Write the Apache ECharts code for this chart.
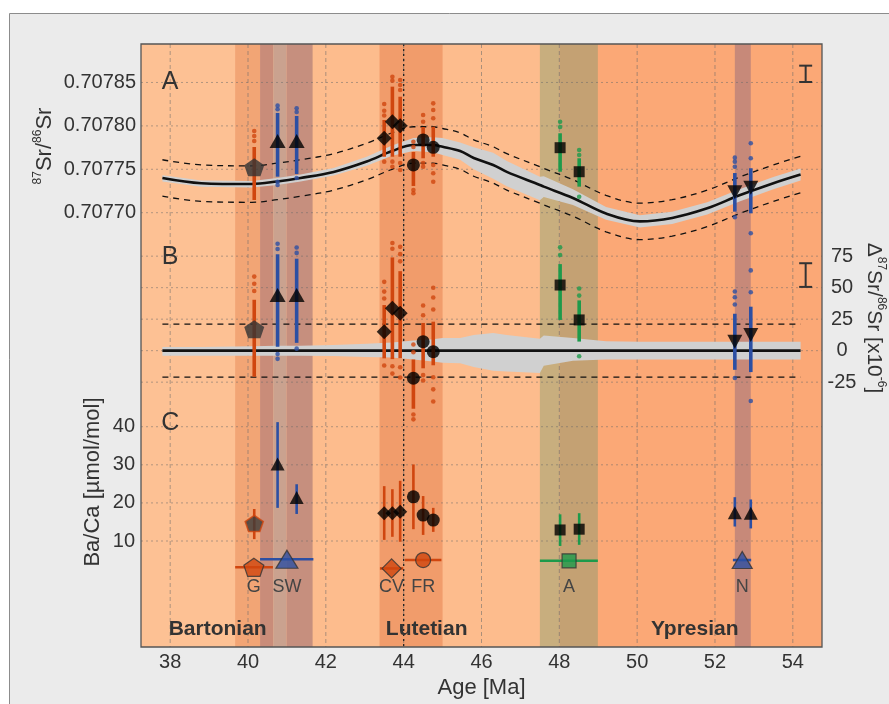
<!DOCTYPE html>
<html><head><meta charset="utf-8">
<script src="https://cdn.jsdelivr.net/npm/echarts/dist/echarts.min.js"></script>
<style>html,body{margin:0;padding:0;background:#ffffff}#c{width:889px;height:704px}</style>
</head><body><div id="c"></div>
<script>
// ---------------- DATA ----------------
const ageTicks = [38, 40, 42, 44, 46, 48, 50, 52, 54];
const srTicks = [0.70770, 0.70775, 0.70780, 0.70785];
const dSrTicks = [-25, 0, 25, 50, 75];
const baTicks = [10, 20, 30, 40];

const stageNames = ['Bartonian', 'Lutetian', 'Ypresian'];
const stageStart = [37.25, 41.2, 48.0];
const stageEnd = [41.2, 48.0, 54.75];
const stageLabelAge = [39.22, 44.59, 51.48];

const bandStart = [39.67, 40.31, 40.65, 40.99, 43.38, 47.50, 48.00, 52.51];
const bandEnd   = [40.31, 40.65, 40.99, 41.66, 45.00, 48.00, 48.99, 52.92];

const markerLineAge = [44.0];

// LOWESS reference curve (87Sr/86Sr) and its uncertainty envelope (x1e-6)
const curveAge = [37.8, 38.8, 40.1, 40.75, 41.35, 42.2, 43.05, 43.7, 44.25, 44.75, 45.0, 45.45, 45.8, 46.3, 46.65, 47.5, 47.6, 48.35, 49.2, 50.07, 50.9, 51.8, 52.63, 53.5, 54.2];
const curveSr  = [0.707740, 0.707734, 0.707733, 0.707736, 0.707740, 0.707747, 0.707759, 0.707771, 0.707778, 0.707778, 0.707776, 0.707771, 0.707763, 0.707755, 0.707747, 0.707732, 0.707730, 0.707717, 0.707699, 0.707690, 0.707694, 0.707705, 0.707720, 0.707734, 0.707744];
const curveUp  = [3, 3, 3.5, 4, 4, 4.5, 5.5, 6.5, 8, 9, 10, 10, 12.5, 14, 12.5, 9.5, 12, 10, 7.5, 7, 7, 7, 7, 7, 7];
const curveLo  = [-4, -4, -4, -4, -4, -4.2, -5, -5.5, -7, -8.5, -9.5, -10, -13, -16, -16.5, -17.7, -12, -8, -7, -7, -7, -7, -7, -7, -7];
const SR_ENV = 21;      // dashed envelope, x1e-6
const EXT_2SD = 9.4;    // external reproducibility, x1e-6
const extAge = [54.33];
const extSrCenter = [0.70786];
const extDSrCenter = [60];

// Sr isotope samples
const srSite = ['G', 'SW', 'SW', 'CV', 'CV', 'CV', 'FR', 'FR', 'FR', 'A', 'A', 'N', 'N'];
const srAge  = [40.16, 40.76, 41.25, 43.50, 43.71, 43.91, 44.25, 44.50, 44.76, 48.02, 48.51, 52.51, 52.92];
const srMean = [0.7077523, 0.7077826, 0.7077826, 0.7077857, 0.7078048, 0.7078002, 0.7077550, 0.7077838, 0.7077753, 0.7077749, 0.7077472, 0.7077235, 0.7077288];
const dSrMean = [17.0, 44.2, 44.2, 15.1, 33.6, 29.7, -21.9, 7.1, -0.8, 52.1, 24.4, 7.1, 12.5];
const srCoreHi = [0.7077757, 0.7078149, 0.7078114, 0.7078068, 0.7078452, 0.7078336, 0.7077699, 0.7077987, 0.7077991, 0.7077915, 0.7077627, 0.7077457, 0.7077512];
const srCoreLo = [0.7077146, 0.7077415, 0.7077446, 0.7077645, 0.7077645, 0.7077645, 0.7077308, 0.7077627, 0.7077645, 0.7077472, 0.7077300, 0.7077012, 0.7076993];
const srDots = [
  [0.7077941, 0.7077884, 0.7077826],
  [0.7078233, 0.7078191, 0.7077357, 0.7077319],
  [0.7078203, 0.7078160, 0.7077400],
  [0.7078252, 0.7078175, 0.7078120, 0.7077588],
  [0.7078567, 0.7078521, 0.7077588, 0.7077530],
  [0.7078529, 0.7078471, 0.7078414, 0.7077573, 0.7077492],
  [0.7077818, 0.7077757, 0.7077262, 0.7077224],
  [0.7078126, 0.7078048, 0.7077573, 0.7077530],
  [0.7078260, 0.7078183, 0.7078088, 0.7077550, 0.7077454, 0.7077357],
  [0.7078048, 0.7077987],
  [0.7077722, 0.7077665, 0.7077184],
  [0.7077634, 0.7077588, 0.7077530, 0.7076947],
  [0.7077800, 0.7077627, 0.7076763]
];

// Ba/Ca of the same samples
const baMean = [14.6, 30.2, 21.4, 17.3, 17.3, 17.7, 21.6, 16.8, 15.5, 12.9, 13.1, 17.4, 17.3];
const baHi   = [18.4, 41.2, 24.9, 24.4, 23.6, 25.8, 30.1, 21.8, 18.7, 17.0, 17.3, 21.5, 20.9];
const baLo   = [10.5, 18.7, 17.1, 10.3, 11.1, 9.8, 13.1, 11.6, 12.4, 8.7, 9.0, 13.8, 13.3];

// Site reference points (lower row of panel C)
const refSite   = ['G', 'SW', 'CV', 'FR', 'A', 'N'];
const refAge    = [40.15, 41.00, 43.69, 44.50, 48.25, 52.70];
const refBa     = [3.1, 5.2, 2.8, 5.0, 4.8, 5.0];
const refAgeMin = [39.67, 40.31, 43.39, 44.03, 47.50, 52.46];
const refAgeMax = [40.64, 41.68, 43.99, 44.97, 48.99, 52.93];

// ---------------- LAYOUT / STYLE ----------------
const X_MIN = 37.25, X_MAX = 54.75;
const A_MIN = 0.70719965, A_MAX = 0.70789435;
const B_MIN = -235.2, B_MAX = 243.4;
const C_MIN = -17.82, C_MAX = 140.45;
const REF_LABEL_Y = -2.0, STAGE_LABEL_Y = -13.2;
const FONT = "'Liberation Sans', Arial, Helvetica, sans-serif";
const TXT = '#333333';
const ORANGE = '#d0460f', BLUE = '#2c4fa3', GREEN = '#1d9a4b';
const STAGE_COLORS = ['#fdc194', '#fdbc8d', '#fba876'];
const BAND_COLORS = ['#f2a575', '#c98c79', '#caa28f', '#c68f7e', '#f19c6b', '#c8ae7e', '#c4a173', '#c78979'];
const PENTAGON = 'path://M0,-10L9.511,-3.09L5.878,8.09L-5.878,8.09L-9.511,-3.09Z';
const siteColor = {G: ORANGE, SW: BLUE, CV: ORANGE, FR: ORANGE, A: GREEN, N: BLUE};
const siteSymbol = {G: PENTAGON, SW: 'triangle', CV: 'diamond', FR: 'circle', A: 'rect', N: 'triangle'};
const sizeSr = {G: [20, 19], SW: [16, 14], CV: [15, 15], FR: [13, 13], A: [11, 11], N: [15, 14]};
const sizeBa = {G: [18, 17], SW: [14, 13], CV: [14, 14], FR: [13, 13], A: [11, 11], N: [14, 13]};
const sizeRef = {G: [20, 19], SW: [22, 18], CV: [19, 19], FR: [15, 15], A: [14, 14], N: [20, 17]};

const chart = echarts.init(document.getElementById('c'), null, {renderer: 'canvas', width: 889, height: 704});

function rectItem(api, x0, x1, y0, y1, style) {
  const p0 = api.coord([x0, y1]), p1 = api.coord([x1, y0]);
  return {type: 'rect', shape: {x: p0[0], y: p0[1], width: p1[0] - p0[0], height: p1[1] - p0[1]}, style: style};
}
function lineItem(a, b, style) {
  return {type: 'line', shape: {x1: a[0], y1: a[1], x2: b[0], y2: b[1]}, style: style};
}

const series = [];
// stage backgrounds
series.push({type: 'custom', xAxisIndex: 0, yAxisIndex: 0, z: 1, silent: true,
  data: stageNames.map((n, i) => [stageStart[i], stageEnd[i]]),
  renderItem: (p, api) => rectItem(api, api.value(0), api.value(1), A_MIN, A_MAX, {fill: STAGE_COLORS[p.dataIndex]})});
// sample age bands
series.push({type: 'custom', xAxisIndex: 0, yAxisIndex: 0, z: 2, silent: true,
  data: bandStart.map((s, i) => [s, bandEnd[i]]),
  renderItem: (p, api) => rectItem(api, api.value(0), api.value(1), A_MIN, A_MAX, {fill: BAND_COLORS[p.dataIndex]})});
// vertical grid lines
series.push({type: 'custom', xAxisIndex: 0, yAxisIndex: 0, z: 3, silent: true,
  data: ageTicks.map(v => [v, A_MIN]),
  renderItem: (p, api) => lineItem(api.coord([api.value(0), A_MAX]), api.coord([api.value(0), A_MIN]),
    {stroke: 'rgba(105,105,105,0.55)', lineWidth: 1, lineDash: [4, 3]})});
// horizontal dotted grid lines per panel
[srTicks, dSrTicks, baTicks].forEach((ticks, g) => {
  series.push({type: 'custom', xAxisIndex: g, yAxisIndex: g, z: 3, silent: true,
    data: ticks.map(v => [X_MIN, v]),
    renderItem: (p, api) => lineItem(api.coord([X_MIN, api.value(1)]), api.coord([X_MAX, api.value(1)]),
      {stroke: 'rgba(105,105,105,0.5)', lineWidth: 1, lineDash: [2, 3]})});
});
// black dotted marker line
series.push({type: 'custom', xAxisIndex: 0, yAxisIndex: 0, z: 3, silent: true,
  data: markerLineAge.map(v => [v, A_MIN]),
  renderItem: (p, api) => lineItem(api.coord([api.value(0), A_MAX]), api.coord([api.value(0), A_MIN]),
    {stroke: '#222', lineWidth: 1.3, lineDash: [2, 3]})});
// gray uncertainty bands
series.push({type: 'custom', xAxisIndex: 0, yAxisIndex: 0, z: 4, silent: true,
  data: [[curveAge[0], curveSr[0]]],
  renderItem: (p, api) => {
    const up = curveAge.map((a, i) => api.coord([a, curveSr[i] + curveUp[i] * 1e-6]));
    const lo = curveAge.map((a, i) => api.coord([a, curveSr[i] + curveLo[i] * 1e-6])).reverse();
    return {type: 'polygon', shape: {points: up.concat(lo)}, style: {fill: '#d0d0d0'}};
  }});
series.push({type: 'custom', xAxisIndex: 1, yAxisIndex: 1, z: 4, silent: true,
  data: [[curveAge[0], 0]],
  renderItem: (p, api) => {
    const up = curveAge.map((a, i) => api.coord([a, curveUp[i]]));
    const lo = curveAge.map((a, i) => api.coord([a, curveLo[i]])).reverse();
    return {type: 'polygon', shape: {points: up.concat(lo)}, style: {fill: '#d0d0d0'}};
  }});
// curve + envelope (panel A)
series.push({type: 'line', xAxisIndex: 0, yAxisIndex: 0, z: 5, silent: true, smooth: 0.35, showSymbol: false,
  data: curveAge.map((a, i) => [a, curveSr[i]]), lineStyle: {color: '#111', width: 2.6}});
[1, -1].forEach(s => series.push({type: 'line', xAxisIndex: 0, yAxisIndex: 0, z: 5, silent: true, smooth: 0.35, showSymbol: false,
  data: curveAge.map((a, i) => [a, curveSr[i] + s * SR_ENV * 1e-6]), lineStyle: {color: '#111', width: 1.3, type: [6, 5]}}));
// panel B reference
series.push({type: 'line', xAxisIndex: 1, yAxisIndex: 1, z: 5, silent: true, showSymbol: false,
  data: curveAge.map(a => [a, 0]), lineStyle: {color: '#111', width: 2.6}});
[1, -1].forEach(s => series.push({type: 'line', xAxisIndex: 1, yAxisIndex: 1, z: 5, silent: true, showSymbol: false,
  data: [[curveAge[0], s * SR_ENV], [curveAge[curveAge.length - 1], s * SR_ENV]], lineStyle: {color: '#111', width: 1.3, type: [6, 5]}}));

// Sr panels: cores, dots, means
function toB(i, v) { return (v - srMean[i]) * 1e6 + dSrMean[i]; }
function vSeg(g, data, width, colorFn, z) {
  return {type: 'custom', xAxisIndex: g, yAxisIndex: g, z: z, silent: true, data: data,
    renderItem: (p, api) => lineItem(api.coord([api.value(0), api.value(1)]), api.coord([api.value(0), api.value(2)]),
      {stroke: colorFn(p.dataIndex), lineWidth: width})};
}
series.push(vSeg(0, srAge.map((a, i) => [a, srCoreLo[i], srCoreHi[i]]), 3.6, i => siteColor[srSite[i]], 6));
series.push(vSeg(1, srAge.map((a, i) => [a, toB(i, srCoreLo[i]), toB(i, srCoreHi[i])]), 3.6, i => siteColor[srSite[i]], 6));
const dotsA = [], dotsB = [];
srDots.forEach((arr, i) => arr.forEach(v => {
  dotsA.push({value: [srAge[i], v], itemStyle: {color: siteColor[srSite[i]]}});
  dotsB.push({value: [srAge[i], toB(i, v)], itemStyle: {color: siteColor[srSite[i]]}});
}));
series.push({type: 'scatter', xAxisIndex: 0, yAxisIndex: 0, z: 7, silent: true, symbolSize: 4.6, data: dotsA});
series.push({type: 'scatter', xAxisIndex: 1, yAxisIndex: 1, z: 7, silent: true, symbolSize: 4.6, data: dotsB});
function srMarker(i, y) {
  const s = srSite[i];
  return {value: [srAge[i], y], symbol: siteSymbol[s], symbolSize: sizeSr[s], symbolRotate: s === 'N' ? 180 : 0,
    symbolKeepAspect: s === 'G', itemStyle: {color: s === 'G' ? '#333333' : '#000000'}};
}
series.push({type: 'scatter', xAxisIndex: 0, yAxisIndex: 0, z: 8, silent: true, data: srAge.map((a, i) => srMarker(i, srMean[i]))});
series.push({type: 'scatter', xAxisIndex: 1, yAxisIndex: 1, z: 8, silent: true, data: srAge.map((a, i) => srMarker(i, dSrMean[i]))});

// Ba/Ca panel
series.push(vSeg(2, srAge.map((a, i) => [a, baLo[i], baHi[i]]), 2.6, i => siteColor[srSite[i]], 6));
series.push({type: 'scatter', xAxisIndex: 2, yAxisIndex: 2, z: 8, silent: true,
  data: srAge.map((a, i) => {
    const s = srSite[i];
    return {value: [a, baMean[i]], symbol: siteSymbol[s], symbolSize: sizeBa[s], symbolKeepAspect: s === 'G',
      itemStyle: s === 'G' ? {color: '#3a3a3a', borderColor: ORANGE, borderWidth: 1.6} : {color: '#000000'}};
  })});
series.push({type: 'custom', xAxisIndex: 2, yAxisIndex: 2, z: 6, silent: true,
  data: refAge.map((a, i) => [refAgeMin[i], refAgeMax[i], refBa[i]]),
  renderItem: (p, api) => lineItem(api.coord([api.value(0), api.value(2)]), api.coord([api.value(1), api.value(2)]),
    {stroke: siteColor[refSite[p.dataIndex]], lineWidth: 2.6})});
series.push({type: 'scatter', xAxisIndex: 2, yAxisIndex: 2, z: 8, silent: true,
  data: refAge.map((a, i) => {
    const s = refSite[i];
    return {value: [a, refBa[i]], symbol: siteSymbol[s], symbolSize: sizeRef[s], symbolKeepAspect: s === 'G',
      itemStyle: {color: siteColor[s], borderColor: '#333', borderWidth: 1.2}};
  })});

// texts
function textSeries(g, data, textFn, style, z) {
  return {type: 'custom', xAxisIndex: g, yAxisIndex: g, z: z, silent: true, data: data,
    renderItem: (p, api) => {
      const c = api.coord([api.value(0), api.value(1)]);
      return {type: 'text', x: c[0], y: c[1], style: Object.assign({text: textFn(p.dataIndex), align: 'center', verticalAlign: 'middle'}, style)};
    }};
}
series.push(textSeries(2, refAge.map(a => [a, REF_LABEL_Y]), i => refSite[i], {fill: '#444', fontSize: 18, fontFamily: FONT}, 9));
series.push(textSeries(2, stageLabelAge.map(a => [a, STAGE_LABEL_Y]), i => stageNames[i], {fill: '#333', fontSize: 21, fontWeight: 'bold', fontFamily: FONT}, 9));
series.push(textSeries(0, [[38, 0.70785]], () => 'A', {fill: '#333', fontSize: 25, fontFamily: FONT}, 9));
series.push(textSeries(1, [[38, 74]], () => 'B', {fill: '#333', fontSize: 25, fontFamily: FONT}, 9));
series.push(textSeries(2, [[38, 41]], () => 'C', {fill: '#333', fontSize: 25, fontFamily: FONT}, 9));

// external reproducibility "I" markers
function extSeries(g, center, half) {
  return {type: 'custom', xAxisIndex: g, yAxisIndex: g, z: 9, silent: true, data: [[extAge[0], center]],
    renderItem: (p, api) => {
      const t = api.coord([api.value(0), api.value(1) + half]), b = api.coord([api.value(0), api.value(1) - half]);
      const st = {stroke: '#333', lineWidth: 2};
      return {type: 'group', children: [lineItem(t, b, st), lineItem([t[0] - 6.5, t[1]], [t[0] + 6.5, t[1]], st), lineItem([b[0] - 6.5, b[1]], [b[0] + 6.5, b[1]], st)]};
    }};
}
series.push(extSeries(0, extSrCenter[0], EXT_2SD * 1e-6));
series.push(extSeries(1, extDSrCenter[0], EXT_2SD));

// plot border
series.push({type: 'custom', xAxisIndex: 0, yAxisIndex: 0, z: 20, silent: true, data: [[X_MIN, A_MIN]],
  renderItem: (p, api) => rectItem(api, X_MIN, X_MAX, A_MIN, A_MAX, {fill: 'none', stroke: '#555', lineWidth: 1.3})});

const axisText = {fontSize: 20, color: TXT, fontFamily: FONT};
const option = {
  animation: false,
  grid: [0, 1, 2].map(() => ({left: 141, top: 44, width: 681, height: 603})),
  xAxis: [0, 1, 2].map(g => ({type: 'value', gridIndex: g, min: X_MIN, max: X_MAX, show: g === 0,
    axisLine: {show: false}, axisTick: {show: false}, splitLine: {show: false},
    axisLabel: Object.assign({show: g === 0, customValues: ageTicks, formatter: v => String(v), margin: 5}, axisText),
    name: g === 0 ? 'Age [Ma]' : '', nameLocation: 'middle', nameGap: 23,
    nameTextStyle: {fontSize: 22, color: TXT, fontFamily: FONT}})),
  yAxis: [
    {type: 'value', gridIndex: 0, min: A_MIN, max: A_MAX, position: 'left', axisLine: {show: false}, axisTick: {show: false}, splitLine: {show: false},
      axisLabel: Object.assign({customValues: srTicks, formatter: v => v.toFixed(5), margin: 5}, axisText)},
    {type: 'value', gridIndex: 1, min: B_MIN, max: B_MAX, position: 'right', axisLine: {show: false}, axisTick: {show: false}, splitLine: {show: false},
      axisLabel: Object.assign({customValues: dSrTicks, formatter: v => String(v), margin: 20, align: 'center'}, axisText)},
    {type: 'value', gridIndex: 2, min: C_MIN, max: C_MAX, position: 'left', axisLine: {show: false}, axisTick: {show: false}, splitLine: {show: false},
      axisLabel: Object.assign({customValues: baTicks, formatter: v => String(v), margin: 6}, axisText)}
  ],
  graphic: [
    {type: 'rect', z: -100, silent: true, shape: {x: 9.5, y: 13.5, width: 900, height: 720}, style: {fill: '#ebebeb', stroke: '#8c8c8c', lineWidth: 1}},
    {type: 'text', x: 45, y: 146, rotation: Math.PI / 2, silent: true,
      style: {text: '{s|87}{m|Sr/}{s|86}{m|Sr}', align: 'center', verticalAlign: 'middle',
        rich: {m: {fontSize: 22, lineHeight: 26, fontFamily: FONT, fill: TXT, color: TXT}, s: {fontSize: 12, lineHeight: 14, verticalAlign: 'top', fontFamily: FONT, fill: TXT, color: TXT}}}},
    {type: 'text', x: 93, y: 482, rotation: Math.PI / 2, silent: true,
      style: {text: 'Ba/Ca [µmol/mol]', align: 'center', verticalAlign: 'middle', fontSize: 22, fontFamily: FONT, fill: TXT}},
    {type: 'text', x: 874, y: 318, rotation: -Math.PI / 2, silent: true,
      style: {text: '{m|Δ}{s|87}{m|Sr/}{s|86}{m|Sr [x10}{s|-6}{m|]}', align: 'center', verticalAlign: 'middle',
        rich: {m: {fontSize: 21, lineHeight: 26, fontFamily: FONT, fill: TXT, color: TXT}, s: {fontSize: 12, lineHeight: 14, verticalAlign: 'top', fontFamily: FONT, fill: TXT, color: TXT}}}}
  ],
  series: series
};
chart.setOption(option);
</script></body></html>
